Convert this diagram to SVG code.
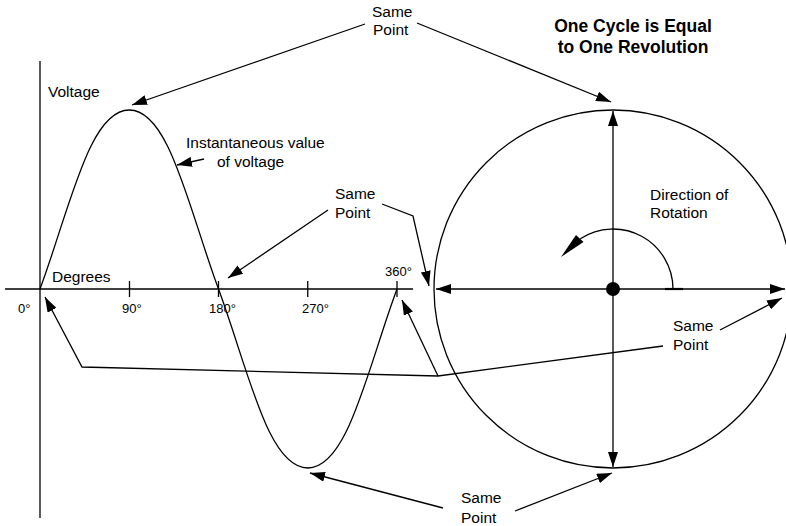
<svg xmlns="http://www.w3.org/2000/svg" width="786" height="526" viewBox="0 0 786 526">
<style>
  .ln{fill:none;stroke:#000;stroke-width:1.3}
  .t{font-family:"Liberation Sans",Arial,sans-serif;font-size:15.5px;fill:#000}
  .d{font-family:"Liberation Sans",Arial,sans-serif;font-size:13px;fill:#000}
  .b{font-family:"Liberation Sans",Arial,sans-serif;font-size:17.5px;font-weight:bold;fill:#000;text-anchor:middle}
</style>
<defs>
  <marker id="ah" markerUnits="userSpaceOnUse" viewBox="0 0 15 10" refX="15" refY="5" markerWidth="15" markerHeight="10" orient="auto-start-reverse">
    <path d="M0,0 L15,5 L0,10 z" fill="#000"/>
  </marker>
</defs>
<rect width="786" height="526" fill="#fff"/>

<g id="axes">
  <line class="ln" x1="40" y1="61" x2="40" y2="518"/>
  <line class="ln" x1="5" y1="289" x2="413" y2="289"/>
  <line class="ln" x1="129.5" y1="281" x2="129.5" y2="297"/>
  <line class="ln" x1="218.5" y1="281" x2="218.5" y2="297"/>
  <line class="ln" x1="307.75" y1="281" x2="307.75" y2="297"/>
  <line class="ln" x1="397" y1="281" x2="397" y2="297"/>
  <text class="t" x="48" y="97">Voltage</text>
  <text class="t" x="52" y="282">Degrees</text>
  <text class="d" x="18" y="313">0°</text>
  <text class="d" x="122" y="313">90°</text>
  <text class="d" x="209" y="313">180°</text>
  <text class="d" x="302" y="313">270°</text>
  <text class="d" x="385" y="276">360°</text>
</g>

<g id="sine-wave">
  <path class="ln" d="M40,289 C70,208 89.25,110 129.25,110 C169.25,110 188.5,208 218.5,289 C248.5,370 267.75,468 307.75,468 C347.75,468 367,370 397,289"/>
</g>

<g id="circle">
  <circle class="ln" cx="613" cy="289" r="179"/>
  <line class="ln" x1="613" y1="289" x2="613" y2="111" marker-end="url(#ah)"/>
  <line class="ln" x1="613" y1="289" x2="613" y2="467" marker-end="url(#ah)"/>
  <line class="ln" x1="613" y1="289" x2="436" y2="289" marker-end="url(#ah)"/>
  <line class="ln" x1="613" y1="289" x2="785" y2="289" marker-end="url(#ah)"/>
  <line x1="665" y1="289" x2="683" y2="289" stroke="#000" stroke-width="2.2"/>
  <circle cx="613" cy="289" r="7" fill="#000"/>
  <path class="ln" d="M673,289 A60,60 0 0 0 580.3,238.7"/>
  <polygon points="576,235 583.5,242 561,257" fill="#000"/>
</g>

<g id="title">
  <text class="b" x="633" y="32">One Cycle is Equal</text>
  <text class="b" x="633" y="53">to One Revolution</text>
</g>

<g id="label-top-same-point">
  <text class="t" x="372" y="17">Same</text>
  <text class="t" x="373" y="35">Point</text>
</g>
<g id="label-instantaneous">
  <text class="t" x="186" y="148">Instantaneous value</text>
  <text class="t" x="217" y="167">of voltage</text>
</g>
<g id="label-mid-same-point">
  <text class="t" x="335" y="199">Same</text>
  <text class="t" x="335" y="218">Point</text>
</g>
<g id="label-direction">
  <text class="t" x="650" y="200">Direction of</text>
  <text class="t" x="650" y="218">Rotation</text>
</g>
<g id="label-right-same-point">
  <text class="t" x="673" y="331">Same</text>
  <text class="t" x="673" y="350">Point</text>
</g>
<g id="label-bottom-same-point">
  <text class="t" x="461" y="503">Same</text>
  <text class="t" x="461" y="523">Point</text>
</g>

<g id="connectors">
  <line class="ln" x1="365" y1="24" x2="132" y2="105" marker-end="url(#ah)"/>
  <line class="ln" x1="417" y1="23" x2="611" y2="102" marker-end="url(#ah)"/>
  <line class="ln" x1="204" y1="159" x2="177" y2="165" marker-end="url(#ah)"/>
  <line class="ln" x1="328" y1="210" x2="228" y2="278" marker-end="url(#ah)"/>
  <polyline class="ln" points="382,204 413,216 429,286" marker-end="url(#ah)"/>
  <polyline class="ln" points="45,297 82,367 438,376 663,346" marker-start="url(#ah)"/>
  <line class="ln" x1="438" y1="376" x2="402" y2="300" marker-end="url(#ah)"/>
  <line class="ln" x1="720" y1="330" x2="782" y2="298" marker-end="url(#ah)"/>
  <line class="ln" x1="443" y1="508" x2="310" y2="473" marker-end="url(#ah)"/>
  <line class="ln" x1="515" y1="511" x2="612" y2="473" marker-end="url(#ah)"/>
</g>
</svg>
